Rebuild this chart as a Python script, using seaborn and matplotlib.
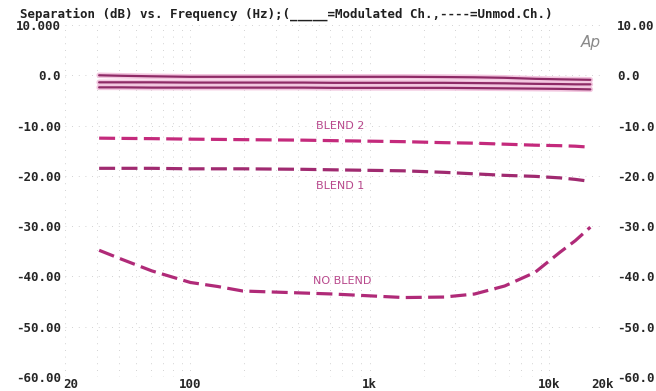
import numpy as np
import pandas as pd
import matplotlib.pyplot as plt
import matplotlib.transforms as mtrans
import seaborn as sns
from matplotlib.ticker import FixedLocator, LogLocator, NullFormatter

sns.set_style("white")
plt.rcParams['font.family'] = ['DejaVu Sans']

# sweep points (Hz)
freq_hz = [31, 41.5, 61, 100, 142, 196, 426, 628, 1550, 2600, 3840, 5660, 8350, 11500, 14000, 17000]

# modulated channel (solid)
mod_a = [0.0, -0.1, -0.2, -0.3, -0.3, -0.3, -0.3, -0.3, -0.3, -0.35, -0.4, -0.5, -0.7, -0.8, -0.85, -0.9]
mod_b = [-1.4, -1.4, -1.4, -1.45, -1.45, -1.45, -1.45, -1.5, -1.5, -1.5, -1.55, -1.6, -1.7, -1.75, -1.8, -1.8]
mod_c = [-2.4, -2.4, -2.45, -2.45, -2.45, -2.45, -2.45, -2.5, -2.5, -2.5, -2.55, -2.6, -2.65, -2.7, -2.75, -2.8]

# unmodulated channel (dashed)
blend2 = [-12.5, -12.55, -12.6, -12.7, -12.75, -12.8, -12.9, -13.0, -13.2, -13.4, -13.5, -13.7, -13.9, -14.0, -14.1, -14.3]
blend1 = [-18.5, -18.5, -18.5, -18.6, -18.6, -18.6, -18.7, -18.8, -19.0, -19.3, -19.6, -19.9, -20.1, -20.4, -20.7, -21.1]
noblend = [-34.8, -36.6, -38.9, -41.2, -42.0, -42.9, -43.3, -43.5, -44.2, -44.1, -43.5, -41.9, -39.2, -35.2, -32.9, -30.2]

curve_names = ["BLEND 2", "BLEND 1", "NO BLEND"]
curve_label_x = [686, 686, 700]
curve_label_y = [-10.1, -22.1, -41.0]

x_ticks = [20, 100, 1000, 10000, 20000]
x_ticklabels = ["20", "100", "1k", "10k", "20k"]
y_ticks = [10, 0, -10, -20, -30, -40, -50, -60]
y_left_labels = ["10.000", "0.0", "-10.00", "-20.00", "-30.00", "-40.00", "-50.00", "-60.00"]
y_right_labels = ["10.00", "0.0", "-10.0", "-20.0", "-30.0", "-40.0", "-50.0", "-60.0"]

mod_df = pd.DataFrame({"freq": freq_hz * 3,
                       "db": mod_a + mod_b + mod_c,
                       "trace": ["a"] * 16 + ["b"] * 16 + ["c"] * 16})

fig = plt.figure(figsize=(6.56, 3.91), dpi=100)
ax = fig.add_axes([65 / 656, 14 / 391, 538 / 656, 352 / 391])

# pink halo of the scanned solid traces, then the traces
for tr in ["a", "b", "c"]:
    d = mod_df[mod_df.trace == tr]
    sns.lineplot(data=d, x="freq", y="db", ax=ax, color="#f2c6df", lw=4.0, legend=False)
for tr in ["a", "b", "c"]:
    d = mod_df[mod_df.trace == tr]
    sns.lineplot(data=d, x="freq", y="db", ax=ax, color="#8e2a66", lw=1.6, legend=False)

dash_colors = ["#c42a7c", "#a02a70", "#b02a78"]
for vals, col in zip([blend2, blend1, noblend], dash_colors):
    sns.lineplot(x=freq_hz, y=vals, ax=ax, color=col, lw=2.3,
                 linestyle=(0, (5, 2)), legend=False)

ax.set_xscale("log")
ax.set_xlim(20, 20000)
ax.set_ylim(-60, 10)

# faint dotted AP grid
ax.xaxis.set_major_locator(FixedLocator(x_ticks))
ax.xaxis.set_minor_locator(LogLocator(base=10, subs=np.arange(2, 10)))
ax.xaxis.set_minor_formatter(NullFormatter())
ax.set_yticks(y_ticks)
ax.grid(True, which="both", axis="x", color="#c4c4c4", lw=0.6, linestyle=(0, (1, 7)))
ax.grid(True, which="major", axis="y", color="#c4c4c4", lw=0.6, linestyle=(0, (1, 7)))

mono = dict(family="DejaVu Sans Mono", weight="bold", size=9)
ax.set_xticklabels(x_ticklabels, **mono)
ax.set_yticklabels(y_left_labels, **mono)
ax.tick_params(axis="both", which="both", length=0)
ax.tick_params(axis="x", pad=1)
ax.tick_params(axis="y", pad=3)
ax.set_xlabel("")
ax.set_ylabel("")
for s in ax.spines.values():
    s.set_visible(False)

# the "20" sits a little right of the axis corner, clear of "-60.00"
first = ax.get_xticklabels()[0]
first.set_transform(first.get_transform() + mtrans.ScaledTranslation(6 / 100, 0, fig.dpi_scale_trans))

ax2 = ax.twinx()
ax2.set_ylim(-60, 10)
ax2.set_yticks(y_ticks)
ax2.set_yticklabels(y_right_labels, **mono)
ax2.tick_params(axis="y", length=0, pad=10)
for s in ax2.spines.values():
    s.set_visible(False)

for name, lx, ly in zip(curve_names, curve_label_x, curve_label_y):
    ax.text(lx, ly, name, color="#b8488c", fontsize=8, ha="center", va="center")

fig.text(20 / 656, 1 - 14 / 391,
         "Separation (dB) vs. Frequency (Hz);(_____=Modulated Ch.,----=Unmod.Ch.)",
         va="center", ha="left", color="#202020", **mono)
fig.text(591 / 656, 1 - 42 / 391, "Ap", color="#8a8a8a", fontsize=11,
         style="italic", ha="center", va="center")

plt.savefig("out.png", dpi=100)
